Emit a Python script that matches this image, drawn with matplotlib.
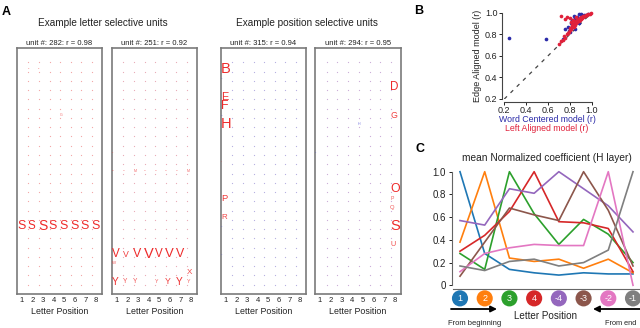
import numpy as np
import matplotlib.pyplot as plt

plt.rcParams['font.family'] = ['Liberation Sans', 'DejaVu Sans']

# ---------------- data ----------------
alphabet = list('ABCDEFGHIJKLMNOPQRSTUVWXYZ')
letter_positions = [1, 2, 3, 4, 5, 6, 7, 8]

unit_ids = [282, 251, 315, 294]
unit_r = [0.98, 0.92, 0.94, 0.95]

# (letter, position, coefficient) ; negative coefficient -> blue
unit282 = [('S', 1, 0.85), ('S', 2, 0.8), ('S', 3, 0.95), ('S', 4, 0.85),
           ('S', 5, 0.85), ('S', 6, 0.85), ('S', 7, 0.85), ('S', 8, 0.85),
           ('G', 5, 0.25), ('B', 2, 0.08), ('B', 3, 0.15)]
unit251 = [('V', 1, 0.8), ('V', 2, 0.6), ('V', 3, 0.85), ('V', 4, 1.0),
           ('V', 5, 0.8), ('V', 6, 0.9), ('V', 7, 0.85),
           ('Y', 1, 0.7), ('Y', 2, 0.45), ('Y', 3, 0.45), ('Y', 5, 0.35),
           ('Y', 6, 0.6), ('Y', 7, 0.7), ('Y', 8, 0.35),
           ('X', 8, 0.55), ('W', 1, 0.3),
           ('M', 1, 0.12), ('M', 2, 0.1), ('M', 3, 0.25), ('M', 4, 0.15),
           ('M', 5, 0.15), ('M', 6, 0.15), ('M', 7, 0.15), ('M', 8, 0.25),
           ('K', 1, 0.12)]
unit315 = [('B', 1, 1.0), ('E', 1, 0.75), ('F', 1, 0.85), ('H', 1, 1.0),
           ('P', 1, 0.65), ('R', 1, 0.55), ('L', 1, 0.1),
           ('C', 1, -0.1), ('G', 1, -0.1), ('S', 1, -0.1), ('V', 1, -0.1)]
unit294 = [('D', 8, 0.8), ('G', 8, 0.6), ('O', 8, 0.85), ('P', 8, 0.35),
           ('Q', 8, 0.4), ('S', 8, 1.0), ('U', 8, 0.5), ('H', 5, -0.25),
           ('K', 1, -0.1)]
units = [unit282, unit251, unit315, unit294]
dot_colors = ['#f2a6a6', '#e9aab8', '#b6aee0', '#cbabd8']

# panel B: correlation of models
word_centered_x = [0.24, 0.58, 0.74, 0.76, 0.78, 0.79, 0.80, 0.81, 0.82, 0.83,
                   0.84, 0.85, 0.86, 0.87, 0.88, 0.89, 0.90, 0.91, 0.92, 0.93,
                   0.95, 0.97, 0.85, 0.88, 0.80, 0.90]
word_centered_y = [0.77, 0.76, 0.76, 0.85, 0.87, 0.83, 0.86, 0.90, 0.93, 0.89,
                   0.97, 0.95, 0.92, 0.96, 0.99, 0.94, 0.98, 0.96, 0.97, 0.98,
                   0.98, 0.99, 0.85, 0.90, 0.82, 0.99]
left_aligned_x = [0.70, 0.72, 0.74, 0.75, 0.76, 0.77, 0.78, 0.79, 0.80, 0.80,
                  0.81, 0.82, 0.82, 0.83, 0.84, 0.84, 0.85, 0.85, 0.86, 0.86,
                  0.87, 0.87, 0.88, 0.88, 0.89, 0.89, 0.90, 0.90, 0.91, 0.92,
                  0.92, 0.93, 0.94, 0.95, 0.96, 0.97, 0.98, 0.99, 0.72, 0.77,
                  0.76, 0.83, 0.80, 0.81, 0.86]
left_aligned_y = [0.71, 0.74, 0.75, 0.78, 0.77, 0.80, 0.81, 0.82, 0.84, 0.86,
                  0.85, 0.87, 0.89, 0.88, 0.90, 0.87, 0.91, 0.89, 0.92, 0.90,
                  0.93, 0.91, 0.94, 0.92, 0.93, 0.95, 0.94, 0.96, 0.95, 0.96,
                  0.97, 0.97, 0.97, 0.98, 0.98, 0.99, 0.99, 1.00, 0.97, 0.96,
                  0.94, 0.93, 0.95, 0.91, 0.96]

# panel C: mean normalized coefficient per preferred position
pos_labels = ['1', '2', '3', '4', '-4', '-3', '-2', '-1']
coef_p1 = [1.00, 0.28, 0.14, 0.11, 0.09, 0.11, 0.10, 0.10]
coef_p2 = [0.38, 1.00, 0.24, 0.21, 0.23, 0.15, 0.23, 0.11]
coef_p3 = [0.28, 0.14, 1.00, 0.63, 0.36, 0.58, 0.45, 0.20]
coef_p4 = [0.30, 0.44, 0.65, 1.00, 0.56, 0.55, 0.50, 0.12]
coef_m4 = [0.57, 0.53, 0.85, 0.81, 1.00, 0.85, 0.70, 0.47]
coef_m3 = [0.08, 0.38, 0.68, 0.62, 0.57, 1.00, 0.66, 0.17]
coef_m2 = [0.12, 0.28, 0.33, 0.36, 0.35, 0.35, 1.00, 0.00]
coef_m1 = [0.17, 0.13, 0.21, 0.23, 0.17, 0.20, 0.31, 1.00]
curves = [coef_p1, coef_p2, coef_p3, coef_p4, coef_m4, coef_m3, coef_m2, coef_m1]
curve_colors = ['#1f77b4', '#ff7f0e', '#2ca02c', '#d62728',
                '#9467bd', '#8c564b', '#e377c2', '#7f7f7f']

# ---------------- figure ----------------
W, H = 640, 328
fig = plt.figure(figsize=(6.4, 3.28), dpi=100)


def px_axes(x0, y0, x1, y1):
    return fig.add_axes([x0 / W, 1 - y1 / H, (x1 - x0) / W, (y1 - y0) / H])


# panel A
boxes = [(17, 102), (112, 197), (221, 306), (315, 401)]
for k, (x0, x1) in enumerate(boxes):
    ax = px_axes(x0, 48, x1, 294)
    ax.set_xlim(0.55, 8.55)
    ax.set_ylim(25.3, -1.25)
    gx, gy = np.meshgrid(np.arange(1, 8) + 0.62, np.arange(25) + 0.3)
    ax.scatter(gx.ravel(), gy.ravel(), s=0.8, color=dot_colors[k], lw=0)
    for letter, pos, c in units[k]:
        col = '#ee2a2a' if c > 0 else '#3a3ad0'
        ax.text(pos - 0.45, alphabet.index(letter), letter, ha='left', va='center',
                fontsize=max(10.5 * abs(c), 1.5), color=col,
                alpha=min(1.0, 0.55 + 0.6 * abs(c)))
    ax.set_xticks(letter_positions)
    ax.set_xticklabels([str(p) for p in letter_positions], fontsize=5.5)
    ax.tick_params(axis='x', length=0, pad=2.5, colors='#222222')
    ax.set_yticks([])
    ax.set_xlabel('Letter Position', fontsize=6.4, labelpad=1.5, color='#222222')
    for sp in ax.spines.values():
        sp.set_color('#7a7a7a')
        sp.set_linewidth(1.2)
    ax.set_title('unit #: %d: r = %.2f' % (unit_ids[k], unit_r[k]),
                 fontsize=5.5, pad=2.5, color='#222222')

fig.text(102.7 / W, 1 - 23 / H, 'Example letter selective units',
         ha='center', va='center', fontsize=7.2, color='#222222')
fig.text(307 / W, 1 - 23 / H, 'Example position selective units',
         ha='center', va='center', fontsize=7.2, color='#222222')
fig.text(2 / W, 1 - 15 / H, 'A', fontsize=9, weight='bold')
fig.text(414 / W, 1 - 14 / H, 'B', fontsize=9, weight='bold')
fig.text(416 / W, 1 - 152 / H, 'C', fontsize=9, weight='bold')

# panel B
axb = px_axes(504.3, 12.7, 591.7, 99)
axb.plot([0.2, 1.0], [0.2, 1.0], ls=(0, (3, 4)), color='#444444', lw=0.9)
axb.scatter(word_centered_x, word_centered_y, s=7, color='#2a2aa8', lw=0,
            clip_on=False, zorder=3)
axb.scatter(left_aligned_x, left_aligned_y, s=7, color='#e0203a', lw=0,
            clip_on=False, zorder=4)
axb.set_xlim(0.2, 1.0)
axb.set_ylim(0.2, 1.0)
axb.set_xticks([0.2, 0.4, 0.6, 0.8, 1.0])
axb.set_yticks([0.2, 0.4, 0.6, 0.8, 1.0])
axb.tick_params(labelsize=6.5, length=2, width=0.7, pad=1, colors='#222222')
for side in ['top', 'right']:
    axb.spines[side].set_visible(False)
for side in ['left', 'bottom']:
    axb.spines[side].set_position(('outward', 2))
    axb.spines[side].set_color('#444444')
    axb.spines[side].set_linewidth(0.8)
axb.set_ylabel('Edge Aligned model (r)', fontsize=6.5, labelpad=2, color='#222222')
fig.text(547 / W, 1 - 119.5 / H, 'Word Centered model (r)', ha='center',
         va='center', fontsize=6.3, color='#2a2aa8')
fig.text(547 / W, 1 - 128.5 / H, 'Left Aligned model (r)', ha='center',
         va='center', fontsize=6.3, color='#e0203a')

# panel C
axc = px_axes(460, 171.7, 633, 285.3)
x = np.arange(1, 9)
for ys, col in zip(curves, curve_colors):
    axc.plot(x, ys, color=col, lw=1.2, clip_on=False)
axc.set_xlim(1, 8)
axc.set_ylim(0, 1)
axc.set_yticks([0, 0.2, 0.4, 0.6, 0.8, 1.0])
axc.set_yticklabels(['0', '0.2', '0.4', '0.6', '0.8', '1.0'])
axc.set_xticks([])
axc.tick_params(labelsize=7, length=2.5, width=0.7, pad=1.5, colors='#222222')
for side in ['top', 'right']:
    axc.spines[side].set_visible(False)
axc.spines['left'].set_position(('outward', 6))
axc.spines['bottom'].set_position(('outward', 2.7))
axc.spines['bottom'].set_bounds(0.72, 8.28)
for side in ['left', 'bottom']:
    axc.spines[side].set_color('#666666')
    axc.spines[side].set_linewidth(0.8)
axc.scatter(x, [-0.115] * 8, s=135, color=curve_colors, lw=0, clip_on=False,
            zorder=5)
for xi, lab in zip(x, pos_labels):
    axc.text(xi, -0.115, lab, ha='center', va='center', color='white',
             fontsize=6.5, zorder=6, clip_on=False)
axc.set_title('mean Normalized coefficient (H layer)', fontsize=7.3, pad=8,
              color='#222222')

fig.text(545 / W, 1 - 315.7 / H, 'Letter Position', ha='center', va='center',
         fontsize=7.1, color='#222222')
fig.text(475 / W, 1 - 323.5 / H, 'From beginning', ha='center', va='center',
         fontsize=5.5, color='#222222')
fig.text(621 / W, 1 - 323.5 / H, 'From end', ha='center', va='center',
         fontsize=5.3, color='#222222')
arrow = dict(arrowstyle='-|>', color='black', lw=1.3, mutation_scale=9,
             shrinkA=0, shrinkB=0)
fig.add_artist(plt.Annotation('', xy=(497 / W, 1 - 309 / H),
                              xytext=(451 / W, 1 - 309 / H),
                              xycoords='figure fraction',
                              textcoords='figure fraction', arrowprops=arrow))
fig.add_artist(plt.Annotation('', xy=(593 / W, 1 - 309 / H),
                              xytext=(640 / W, 1 - 309 / H),
                              xycoords='figure fraction',
                              textcoords='figure fraction', arrowprops=arrow))

fig.savefig('out.png', dpi=100)
